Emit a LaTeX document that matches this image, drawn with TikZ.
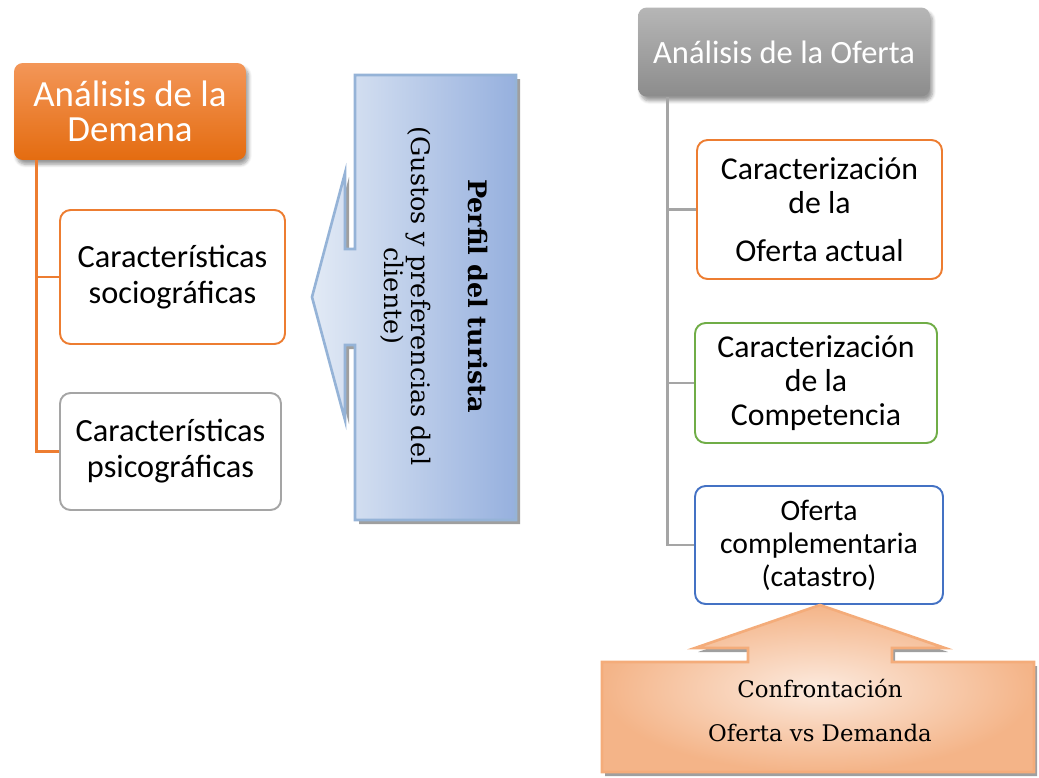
\documentclass[tikz,border=0pt]{standalone}
\usepackage{fontspec}
\setmainfont{Carlito}
\newfontfamily\perfilfont{DejaVu Serif}
\usetikzlibrary{shadows,shadows.blur}

\definecolor{demanaTop}{RGB}{243,150,88}
\definecolor{demanaBot}{RGB}{228,108,16}
\definecolor{ofertaTop}{RGB}{182,182,182}
\definecolor{ofertaBot}{RGB}{140,140,140}
\definecolor{boxOrange}{RGB}{237,125,49}
\definecolor{boxGray}{RGB}{165,165,165}
\definecolor{boxGreen}{RGB}{112,173,71}
\definecolor{boxBlue}{RGB}{68,114,196}
\definecolor{perfilLight}{RGB}{226,234,245}
\definecolor{perfilDark}{RGB}{150,176,222}
\definecolor{perfilLine}{RGB}{149,179,215}
\definecolor{confLight}{RGB}{252,234,222}
\definecolor{confDark}{RGB}{244,180,136}
\definecolor{confLine}{RGB}{244,172,122}

\tikzset{
  header/.style={rounded corners=5pt, text=white, align=center, inner sep=0pt,
    blur shadow={shadow xshift=1.5pt, shadow yshift=-2.5pt, shadow blur steps=6}},
  itembox/.style={draw, rounded corners=6pt, line width=1.1pt, fill=white,
    align=center, inner sep=0pt, font=\fontsize{18.1}{19.5}\selectfont},
  trunk/.style={line width=1.4pt},
}

\begin{document}
\begin{tikzpicture}[x=0.02cm, y=-0.02cm]

  \useasboundingbox (0,0) rectangle (1039,778);

  % Demanda side
  \node[header, top color=demanaTop, bottom color=demanaBot,
        minimum width=4.64cm, minimum height=1.94cm,
        font=\fontsize{21}{20}\selectfont] (demana) at (130,111.5) {Análisis de la\\Demana};
  \node[itembox, draw=boxOrange, minimum width=4.5cm, minimum height=2.68cm,
        font=\fontsize{18.4}{20.5}\selectfont] (socio) at (172.5,277) {Características\\sociográficas};
  \node[itembox, draw=boxGray, minimum width=4.42cm, minimum height=2.34cm,
        font=\fontsize{18.4}{20.5}\selectfont] (psico) at (170.5,451.5) {Características\\psicográficas};

  \coordinate (dtrunk) at ([xshift=0.46cm]demana.south west);
  \draw[trunk, boxOrange] (dtrunk) |- (socio.west);
  \draw[trunk, boxOrange] (dtrunk) |- (psico.west);

  % Perfil del turista (arrow to the left)
  \fill[gray!75, shift={(4,4)}] (355,75) -- (516,75) -- (516,520) -- (355,520) -- (355,345) -- (345,345)
    -- (345,420) -- (312,297) -- (345,173) -- (345,249) -- (355,249) -- cycle;
  \path[draw=perfilLine, line width=1.5pt, left color=perfilLight, right color=perfilDark]
    (355,75) -- (516,75) -- (516,520) -- (355,520) -- (355,345) -- (345,345)
    -- (345,420) -- (312,297) -- (345,173) -- (345,249) -- (355,249) -- cycle;
  \node[rotate=-90, align=center, font=\perfilfont\fontsize{14.5}{15.3}\selectfont] (perfil) at (434.5,296)
    {\textbf{Perfil del turista}\\[17pt](Gustos y preferencias del\\cliente)};

  % Oferta side
  \node[header, top color=ofertaTop, bottom color=ofertaBot,
        minimum width=5.84cm, minimum height=1.78cm,
        font=\fontsize{18.5}{20}\selectfont] (oferta) at (784,52) {Análisis de la Oferta};
  \node[itembox, draw=boxOrange, minimum width=4.9cm, minimum height=2.78cm] (actual) at (819.5,209.5) {Caracterización\\de la\\[8pt]Oferta actual};
  \node[itembox, draw=boxGreen, minimum width=4.84cm, minimum height=2.4cm] (compet) at (816,383) {Caracterización\\de la\\Competencia};
  \node[itembox, draw=boxBlue, minimum width=4.96cm, minimum height=2.36cm,
        font=\fontsize{16.9}{18.8}\selectfont] (complem) at (819,545) {Oferta\\complementaria\\(catastro)};

  \coordinate (otrunk) at ([xshift=0.6cm]oferta.south west);
  \draw[trunk, boxGray] (otrunk) |- (actual.west);
  \draw[trunk, boxGray] (otrunk) |- (compet.west);
  \draw[trunk, boxGray] (otrunk) |- (complem.west);

  % Confrontacion (arrow upwards)
  \fill[gray!75, shift={(3,4)}] (602,662) -- (748,662) -- (748,648) -- (695,648) -- (820,605) -- (945,648)
    -- (892,648) -- (892,662) -- (1034,662) -- (1034,772) -- (602,772) -- cycle;
  \path[draw=confLine, line width=1.5pt, inner color=confLight, outer color=confDark]
    (602,662) -- (748,662) -- (748,648) -- (695,648) -- (820,605) -- (945,648)
    -- (892,648) -- (892,662) -- (1034,662) -- (1034,772) -- (602,772) -- cycle;
  \node[align=center, font=\perfilfont\fontsize{13}{25.5}\selectfont] (confront) at (820,710.5)
    {Confrontación\\Oferta vs Demanda};

\end{tikzpicture}
\end{document}
